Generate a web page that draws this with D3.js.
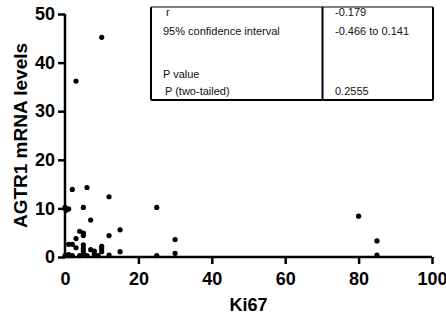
<!DOCTYPE html>
<html>
<head>
<meta charset="utf-8">
<script src="https://cdn.jsdelivr.net/npm/d3@7"></script>
<style>
  body { margin: 0; background: #fff; }
  svg { display: block; font-family: "Liberation Sans", Arial, sans-serif; }
</style>
</head>
<body>
<div id="chart"></div>
<script>
// Ki67 vs AGTR1 mRNA levels
const ki67 = [10, 3, 2, 6, 12, 0, 0.3, 1, 5, 25, 80, 7, 4, 5, 5, 15, 12, 3, 30, 85,
              1, 2, 3, 5, 5, 5, 7, 8, 10, 10, 10, 15, 30, 12, 25, 85,
              0, 1, 2, 4, 5, 6, 8, 9];
const agtr1 = [45.2, 36.2, 13.9, 14.3, 12.4, 10.2, 9.6, 9.9, 10.2, 10.2, 8.4, 7.6, 5.3, 4.9, 4.4, 5.6, 4.4, 3.8, 3.6, 3.3,
               2.6, 2.6, 1.9, 2.5, 1.8, 1.2, 1.5, 1.2, 2.2, 1.7, 1.1, 1.1, 0.75, 0.4, 0.3, 0.4,
               0.3, 0.5, 0.3, 0.3, 0.5, 0.3, 0.5, 0.3];

const xTicks = [0, 20, 40, 60, 80, 100];
const yTicks = [0, 10, 20, 30, 40, 50];

const tableLabels = ["r", "95% confidence interval", "", "P value", "P (two-tailed)"];
const tableValues = ["-0.179", "-0.466 to 0.141", "", "", "0.2555"];

const width = 446, height = 323;
const margin = {top: 14, right: 14, bottom: 66, left: 65};

const svg = d3.select("#chart").append("svg")
  .attr("width", width)
  .attr("height", height);

const x = d3.scaleLinear().domain([0, 100]).range([margin.left, width - margin.right]);
const y = d3.scaleLinear().domain([0, 50]).range([height - margin.bottom, margin.top]);

// axes
const xAxis = svg.append("g")
  .attr("transform", "translate(0," + y(0) + ")")
  .call(d3.axisBottom(x).tickValues(xTicks).tickSize(7).tickPadding(8).tickFormat(d3.format("d")));

const yAxis = svg.append("g")
  .attr("transform", "translate(" + x(0) + ",0)")
  .call(d3.axisLeft(y).tickValues(yTicks).tickSize(7).tickPadding(3).tickFormat(d3.format("d")));

[xAxis, yAxis].forEach(a => {
  a.select(".domain").attr("stroke", "#000").attr("stroke-width", 2.5)
    .attr("d", a === xAxis ? "M" + x(0) + ",0H" + x(100) : "M0," + y(50) + "V" + y(0));
  a.selectAll(".tick line").attr("stroke", "#000").attr("stroke-width", 2.5);
  a.selectAll(".tick text")
    .attr("fill", "#000")
    .style("font-size", "18px")
    .style("font-weight", "bold")
    .style("font-family", "'Liberation Sans', Arial, sans-serif");
});
xAxis.selectAll(".tick:first-of-type line").remove();

// axis titles
svg.append("text")
  .attr("x", (x(0) + x(100)) / 2)
  .attr("y", 311)
  .attr("text-anchor", "middle")
  .style("font-size", "18px")
  .style("font-weight", "bold")
  .text("Ki67");

svg.append("text")
  .attr("transform", "translate(27," + ((y(0) + y(50)) / 2) + ") rotate(-90)")
  .attr("text-anchor", "middle")
  .style("font-size", "19px")
  .style("font-weight", "bold")
  .text("AGTR1 mRNA levels");

// points
svg.append("g")
  .selectAll("circle")
  .data(ki67.map((k, i) => ({k: k, a: agtr1[i]})))
  .enter()
  .append("circle")
  .attr("cx", d => x(d.k))
  .attr("cy", d => y(d.a))
  .attr("r", 2.6)
  .attr("fill", "#000");

// stats table
const tbl = {x0: 151, x1: 433, xd: 322.5, y0: 7, y1: 100};
const t = svg.append("g");
t.append("line").attr("x1", tbl.x0).attr("x2", tbl.x1).attr("y1", tbl.y0).attr("y2", tbl.y0)
  .attr("stroke", "#000").attr("stroke-width", 1.2);
t.append("line").attr("x1", tbl.x0).attr("x2", tbl.x1).attr("y1", tbl.y1).attr("y2", tbl.y1)
  .attr("stroke", "#000").attr("stroke-width", 2);
[tbl.x0, tbl.xd, tbl.x1].forEach(xx => {
  t.append("line").attr("x1", xx).attr("x2", xx).attr("y1", tbl.y0).attr("y2", tbl.y1)
    .attr("stroke", "#000").attr("stroke-width", 2);
});

const rowY = [16, 35, 54, 78, 95];
const labelX = [166, 163, 163, 163, 165];
t.selectAll("text.lab")
  .data(tableLabels)
  .enter()
  .append("text")
  .attr("class", "lab")
  .attr("x", (d, i) => labelX[i])
  .attr("y", (d, i) => rowY[i])
  .style("font-size", "11px")
  .attr("fill", "#111")
  .text(d => d);

t.selectAll("text.val")
  .data(tableValues)
  .enter()
  .append("text")
  .attr("class", "val")
  .attr("x", 335)
  .attr("y", (d, i) => rowY[i])
  .style("font-size", "11px")
  .attr("fill", "#111")
  .text(d => d);
</script>
</body>
</html>
